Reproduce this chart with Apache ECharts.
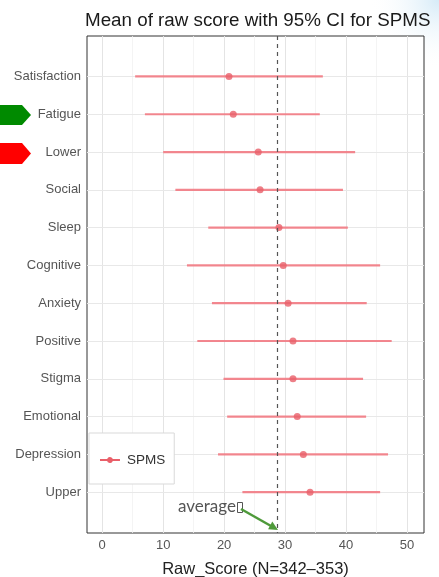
<!DOCTYPE html>
<html>
<head>
<meta charset="utf-8">
<script src="https://cdn.jsdelivr.net/npm/echarts@6/dist/echarts.min.js"></script>
<style>
  html, body { margin: 0; padding: 0; background: #fff; }
  #chart { width: 439px; height: 577px; }
</style>
</head>
<body>
<div id="chart"></div>
<script>
// Subscales, top to bottom
const categories = ['Satisfaction', 'Fatigue', 'Lower', 'Social', 'Sleep', 'Cognitive',
                    'Anxiety', 'Positive', 'Stigma', 'Emotional', 'Depression', 'Upper'];
// Mean raw score and 95% CI bounds per subscale
const means = [20.8, 21.5, 25.6, 25.9, 29.0, 29.7, 30.5, 31.3, 31.3, 32.0, 33.0, 34.1];
const ciLow = [5.4, 7.0, 10.0, 12.0, 17.4, 13.9, 18.0, 15.6, 19.9, 20.5, 19.0, 23.0];
const ciHigh = [36.2, 35.7, 41.5, 39.5, 40.3, 45.6, 43.4, 47.5, 42.8, 43.3, 46.9, 45.6];
// Overall average (dashed reference line)
const average = 28.7;
// Axis ticks
const xTicks = [0, 10, 20, 30, 40, 50];
const xMinorTicks = [5, 15, 25, 35, 45];

const catIdx = categories.map((c, i) => i);
const lineColor = '#f27a83';
const pointColor = '#e95f69';

const chart = echarts.init(document.getElementById('chart'), null, { renderer: 'canvas' });

const gridLines = []
  .concat(xTicks.map(v => ({ xAxis: v, lineStyle: { color: '#e4e4e4', width: 1, type: 'solid' } })))
  .concat(xMinorTicks.map(v => ({ xAxis: v, lineStyle: { color: '#f1f1f1', width: 0.8, type: 'solid' } })))
  .concat(catIdx.map(v => ({ yAxis: v, lineStyle: { color: '#e8e8e8', width: 1, type: 'solid' } })));

chart.setOption({
  animation: false,
  backgroundColor: '#ffffff',
  textStyle: { fontFamily: 'Liberation Sans, Arial, sans-serif' },
  title: {
    text: 'Mean of raw score with 95% CI for SPMS',
    left: 80, top: 6,
    textStyle: { fontSize: 18.8, fontWeight: 'normal', color: '#1a1a1a' }
  },
  grid: {
    left: 87, right: 15, top: 36, bottom: 44,
    outerBoundsMode: 'none',
    containLabel: false,
    show: true, borderColor: '#333333', borderWidth: 1, backgroundColor: '#ffffff'
  },
  legend: {
    data: ['SPMS'],
    left: 89, top: 433,
    orient: 'vertical',
    padding: [20, 9, 17, 11],
    backgroundColor: '#ffffff',
    borderColor: '#d9d9d9', borderWidth: 1,
    itemWidth: 22, itemHeight: 6,
    itemGap: 0,
    icon: 'path://M0,9H7.17A3,3,0,0,1,12.83,9H20V11H12.83A3,3,0,0,1,7.17,11H0Z',
    itemStyle: { color: pointColor },
    textStyle: { fontSize: 13.5, color: '#333', padding: [0, 0, 0, 1] }
  },
  xAxis: {
    type: 'value',
    min: -2.5, max: 52.8,
    name: 'Raw_Score (N=342\u2013353)',
    nameLocation: 'middle', nameGap: 28,
    nameTextStyle: { fontSize: 16.5, color: '#222' },
    axisLine: { show: false },
    splitLine: { show: false },
    axisTick: { show: true, customValues: xTicks, length: 4, lineStyle: { color: '#333' } },
    axisLabel: { customValues: xTicks, fontSize: 13, color: '#555', margin: 6 }
  },
  yAxis: {
    type: 'value',
    inverse: true,
    min: -1.07, max: 12.08,
    axisLine: { show: false },
    splitLine: { show: false },
    axisTick: { show: true, customValues: catIdx, length: 4, lineStyle: { color: '#333' } },
    axisLabel: {
      customValues: catIdx, fontSize: 13, color: '#555', margin: 6,
      formatter: v => categories[Math.round(v)]
    }
  },
  series: [
    {
      name: 'grid',
      type: 'line',
      data: [],
      z: 1,
      silent: true,
      markLine: { z: 1, silent: true, symbol: 'none', label: { show: false }, data: gridLines }
    },
    {
      name: 'SPMS',
      type: 'custom',
      z: 3,
      data: catIdx.map(i => [i, ciLow[i], ciHigh[i]]),
      encode: { x: [1, 2], y: 0 },
      renderItem: (params, api) => {
        const y = api.value(0);
        const p1 = api.coord([api.value(1), y]);
        const p2 = api.coord([api.value(2), y]);
        return {
          type: 'line',
          shape: { x1: p1[0], y1: p1[1], x2: p2[0], y2: p2[1] },
          style: { stroke: lineColor, lineWidth: 2.2, opacity: 0.9 }
        };
      },
      itemStyle: { color: pointColor }
    },
    {
      name: 'SPMS',
      type: 'scatter',
      z: 4,
      symbol: 'circle',
      symbolSize: 7,
      itemStyle: { color: pointColor },
      data: means.map((m, i) => [m, i]),
      markLine: {
        silent: true, symbol: 'none', label: { show: false },
        lineStyle: { color: '#555', type: [4, 4], width: 1.2 },
        data: [{ xAxis: average }]
      }
    }
  ],
  graphic: [
    {
      type: 'rect', z: -10, silent: true,
      shape: { x: 300, y: 0, width: 139, height: 70 },
      style: {
        fill: new echarts.graphic.RadialGradient(1, 0, 1, [
          { offset: 0, color: 'rgba(200,228,245,0.75)' },
          { offset: 1, color: 'rgba(255,255,255,0)' }
        ])
      }
    },
    {
      type: 'polygon', z: 10,
      shape: { points: [[0, 105], [22, 105], [31, 115], [22, 125], [0, 125]] },
      style: { fill: '#008a00' }
    },
    {
      type: 'polygon', z: 10,
      shape: { points: [[0, 143], [22, 143], [31, 153.5], [22, 164], [0, 164]] },
      style: { fill: '#ff0000' }
    },
    {
      type: 'text', z: 10, left: 178, top: 498,
      style: { text: 'average', fontSize: 17, fontFamily: 'Lato, Noto Sans, sans-serif', fill: '#555' }
    },
    {
      type: 'rect', z: 10,
      shape: { x: 237.5, y: 502.5, width: 5, height: 10 },
      style: { fill: 'none', stroke: '#555', lineWidth: 1 }
    },
    {
      type: 'line', z: 10,
      shape: { x1: 241, y1: 509, x2: 271, y2: 526 },
      style: { stroke: '#4e9a3a', lineWidth: 2.5 }
    },
    {
      type: 'polygon', z: 10,
      shape: { points: [[278, 530], [268.1, 529.3], [272.3, 521.5]] },
      style: { fill: '#4e9a3a' }
    }
  ]
});
</script>
</body>
</html>
